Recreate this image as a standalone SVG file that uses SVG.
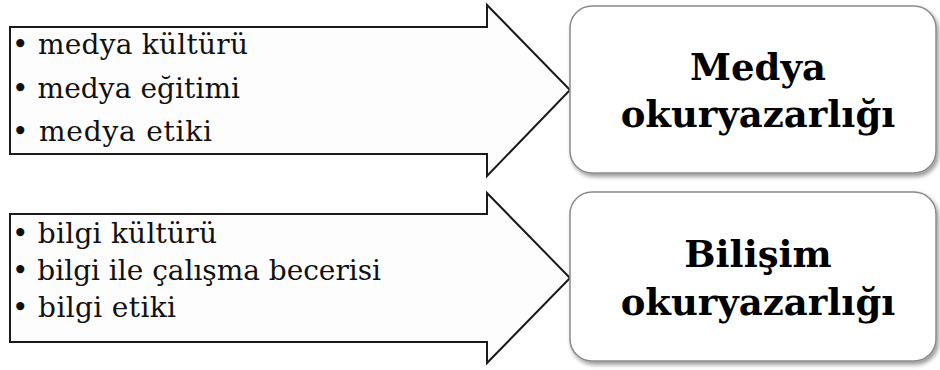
<svg xmlns="http://www.w3.org/2000/svg" width="940" height="370" viewBox="0 0 940 370">
  <defs>
    <filter id="shadow" x="-5%" y="-5%" width="115%" height="120%">
      <feDropShadow dx="2" dy="3" stdDeviation="2" flood-color="#000" flood-opacity="0.4"/>
    </filter>
    <style>
      .arrow { fill: #fdfdfd; stroke: #1a1a1a; stroke-width: 2; stroke-linejoin: miter; }
      .box { fill: #ffffff; stroke: #8a8a8a; stroke-width: 1.5; filter: url(#shadow); }
      .item { font-family: "DejaVu Serif", "Liberation Serif", serif; font-size: 28px; fill: #111; }
      .title { font-family: "DejaVu Serif", "Liberation Serif", serif; font-size: 37px; font-weight: bold; fill: #000; text-anchor: middle; }
    </style>
  </defs>
  <rect width="940" height="370" fill="#ffffff"/>

  <g id="connectors">
    <g id="arrow-media">
      <path class="arrow" d="M10,27 H487 V5 L570,90 L487,176 V154 H10 Z"/>
      <text class="item" x="12" y="54" textLength="236" lengthAdjust="spacing">• medya kültürü</text>
      <text class="item" x="12" y="98" textLength="228" lengthAdjust="spacing">• medya eğitimi</text>
      <text class="item" x="12" y="141" textLength="200" lengthAdjust="spacing">• medya etiki</text>
    </g>
    <g id="arrow-info">
      <path class="arrow" d="M10,214 H487 V193 L570,278 L487,363 V342 H10 Z"/>
      <text class="item" x="12" y="243" textLength="205" lengthAdjust="spacing">• bilgi kültürü</text>
      <text class="item" x="12" y="280" textLength="369" lengthAdjust="spacing">• bilgi ile çalışma becerisi</text>
      <text class="item" x="12" y="317" textLength="164" lengthAdjust="spacing">• bilgi etiki</text>
    </g>
  </g>

  <g id="node-media">
    <rect class="box" x="570" y="6" width="366" height="167" rx="22" ry="22"/>
    <text class="title" x="758" y="80">Medya</text>
    <text class="title" x="758" y="127">okuryazarlığı</text>
  </g>

  <g id="node-info">
    <rect class="box" x="570" y="192" width="366" height="169" rx="22" ry="22"/>
    <text class="title" x="758" y="267">Bilişim</text>
    <text class="title" x="758" y="315">okuryazarlığı</text>
  </g>
</svg>
